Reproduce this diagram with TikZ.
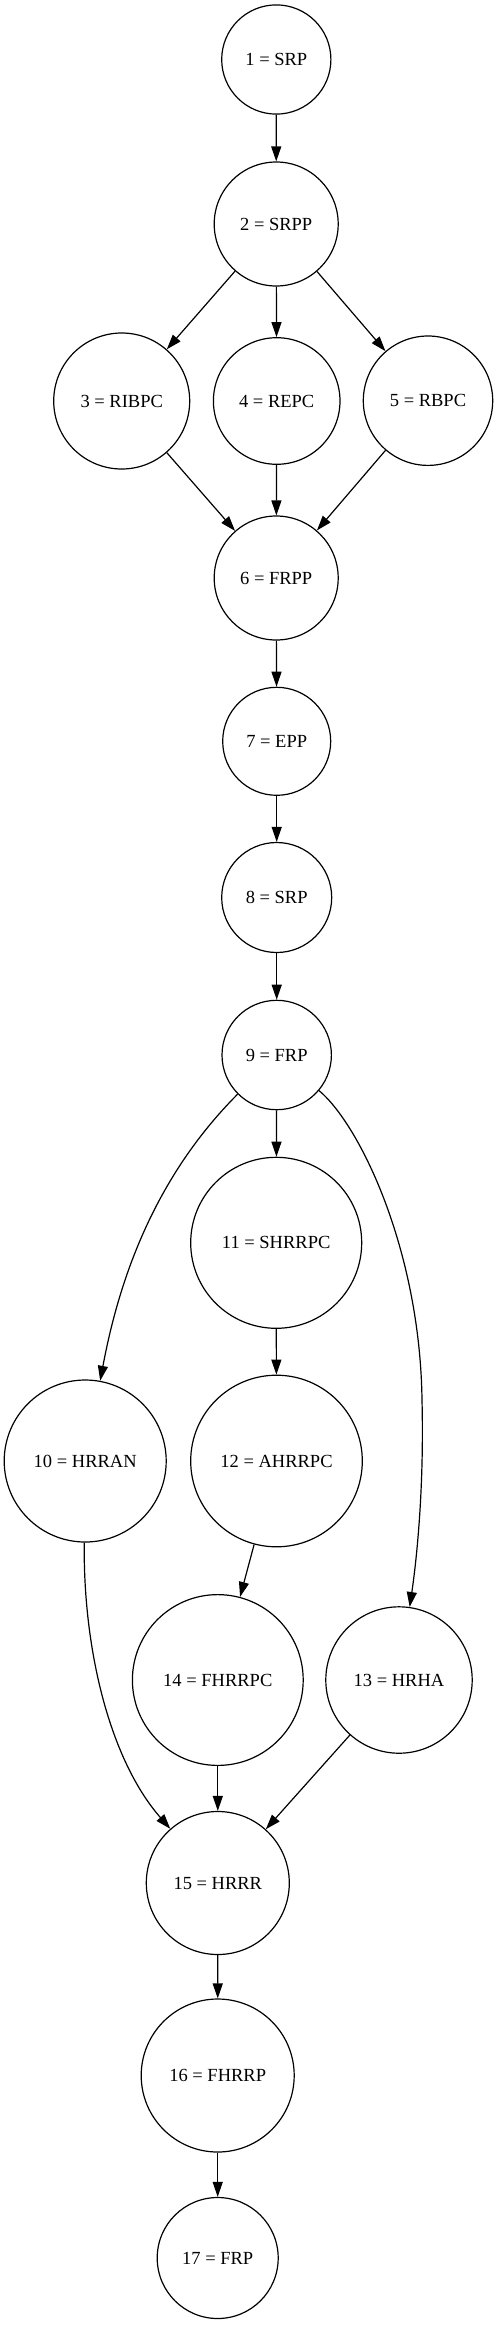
\documentclass[tikz,border=0pt]{standalone}
\usepackage{fontspec}
\setmainfont{Liberation Serif}
\usetikzlibrary{arrows.meta}
\begin{document}
\begin{tikzpicture}[x=1pt,y=-1pt,
  st/.style={circle,draw,line width=1.2pt,inner sep=0pt,font=\fontsize{18.5}{22}\selectfont},
  arr/.style={line width=1.2pt,-{Triangle[length=15pt,width=10pt]}}]
\useasboundingbox (0,0) rectangle (498,2334);
\node[st,minimum size=109.2pt] (n1) at (276.3,59.5) {1 = SRP};
\node[st,minimum size=124pt] (n2) at (276.2,224) {2 = SRPP};
\node[st,minimum size=136pt] (n3) at (121.7,401) {3 = RIBPC};
\node[st,minimum size=126.6pt] (n4) at (276.7,401) {4 = REPC};
\node[st,minimum size=129.4pt] (n5) at (428,400.7) {5 = RBPC};
\node[st,minimum size=124pt] (n6) at (276.2,578) {6 = FRPP};
\node[st,minimum size=108pt] (n7) at (276.7,741.3) {7 = EPP};
\node[st,minimum size=110pt] (n8) at (276.7,897.5) {8 = SRP};
\node[st,minimum size=109.4pt] (n9) at (276.7,1055) {9 = FRP};
\node[st,minimum size=162pt] (n10) at (85.2,1461) {10 = HRRAN};
\node[st,minimum size=171pt] (n11) at (276.2,1242.8) {11 = SHRRPC};
\node[st,minimum size=171.6pt] (n12) at (276.5,1461) {12 = AHRRPC};
\node[st,minimum size=146.4pt] (n13) at (399,1680) {13 = HRHA};
\node[st,minimum size=170.8pt] (n14) at (217.8,1680) {14 = FHRRPC};
\node[st,minimum size=143pt] (n15) at (217.8,1883) {15 = HRRR};
\node[st,minimum size=153pt] (n16) at (217.7,2075.5) {16 = FHRRP};
\node[st,minimum size=121pt] (n17) at (217.7,2258) {17 = FRP};
\draw[arr] (n1) -- (n2);
\draw[arr] (n2) -- (n3);
\draw[arr] (n2) -- (n4);
\draw[arr] (n2) -- (n5);
\draw[arr] (n3) -- (n6);
\draw[arr] (n4) -- (n6);
\draw[arr] (n5) -- (n6);
\draw[arr] (n6) -- (n7);
\draw[arr] (n7) -- (n8);
\draw[arr] (n8) -- (n9);
\draw[arr] (n9) -- (n11);
\draw[arr] (n11) -- (n12);
\draw[arr] (n12) -- (n14);
\draw[arr] (n14) -- (n15);
\draw[arr] (n13) -- (n15);
\draw[arr] (n15) -- (n16);
\draw[arr] (n16) -- (n17);
\draw[arr] (n9) .. controls (154,1178) and (119,1280) .. (n10);
\draw[arr] (n9) .. controls (360,1125) and (420,1250) .. (422,1400) .. controls (424,1480) and (418,1550) .. (n13);
\draw[arr] (n10) .. controls (83,1650) and (110,1760) .. (n15);
\end{tikzpicture}
\end{document}
